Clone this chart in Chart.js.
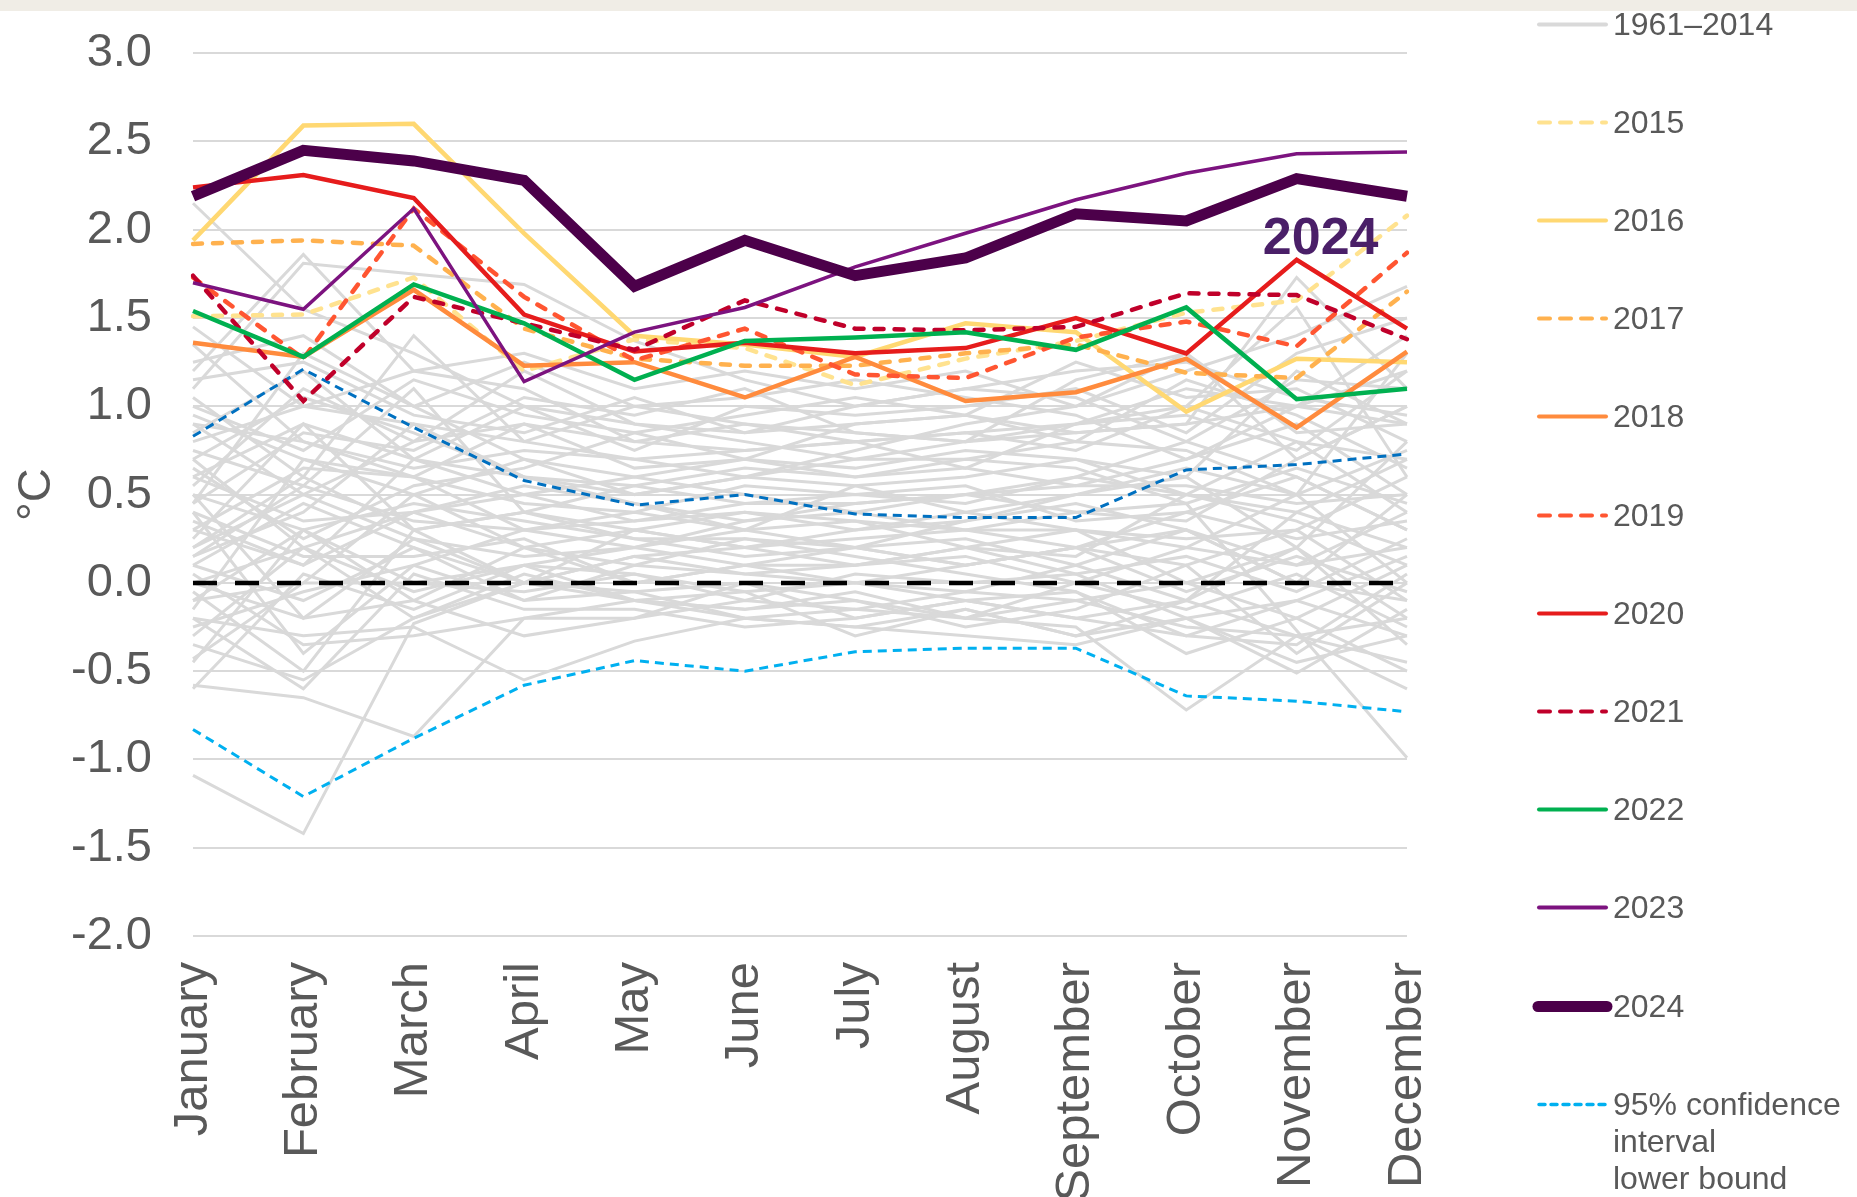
<!DOCTYPE html>
<html>
<head>
<meta charset="utf-8">
<script src="https://cdn.jsdelivr.net/npm/chart.js@4.4.1/dist/chart.umd.min.js"></script>
<style>
  html, body { margin: 0; padding: 0; background: #fff; }
  body { width: 1857px; height: 1197px; position: relative; overflow: hidden; font-family: "Liberation Sans", Arial, sans-serif; }
  #topband { position: absolute; left: 0; top: 0; width: 1857px; height: 11px; background: #f0ede6; z-index: 2; }
  /* canvas starts 16px above the page: chart.js adds the tick padding above the top label */
  #chart { position: absolute; left: 0; top: -16px; }
  #legend { position: absolute; left: 1530px; top: 0; width: 327px; height: 1197px; }
  .item { position: absolute; left: 0; }
  .item svg { position: absolute; left: 0; top: 0; }
  .item span { position: absolute; left: 83px; top: 0; font-size: 32px; line-height: 37px; color: #595959; white-space: nowrap; }
</style>
</head>
<body>
<div id="topband"></div>
<canvas id="chart" width="1857" height="1215"></canvas>
<div id="legend"></div>
<script>
const months = ["January", "February", "March", "April", "May", "June",
  "July", "August", "September", "October", "November", "December"];
const yTicks = [-2.0, -1.5, -1.0, -0.5, 0.0, 0.5, 1.0, 1.5, 2.0, 2.5, 3.0];

// 1961-2014, one row per year (grey background lines)
const grey1961to2014 = [
  [-0.35, -0.55, -0.20, 0.05, -0.10, -0.20, -0.25, -0.15, -0.30, -0.20, -0.45, -0.30],
  [0.10, 0.45, 0.20, -0.10, -0.05, 0.00, -0.20, -0.10, -0.05, -0.30, -0.10, 0.15],
  [-1.09, -1.42, -0.23, 0.00, -0.10, -0.15, -0.05, -0.20, -0.10, -0.25, -0.30, -0.60],
  [-0.58, -0.65, -0.87, -0.20, -0.10, -0.05, 0.00, -0.10, -0.20, -0.10, -0.30, -0.20],
  [-0.20, -0.30, -0.25, -0.55, -0.33, -0.20, -0.25, -0.30, -0.35, -0.20, -0.10, -0.30],
  [0.10, -0.10, 0.20, 0.00, -0.05, -0.20, -0.15, -0.20, -0.25, -0.72, -0.30, -0.45],
  [0.30, 0.10, 0.40, 0.20, 0.30, 0.20, 0.25, 0.30, 0.40, 0.45, -0.27, -0.99],
  [-0.30, 0.20, -0.05, 0.10, 0.05, -0.10, 0.05, 0.00, 0.05, -0.20, -0.51, -0.15],
  [0.60, 0.90, 0.70, 0.60, 0.50, 0.60, 0.70, 0.80, 0.85, 0.90, 1.73, 1.10],
  [0.80, 1.00, 0.90, 0.80, 0.70, 0.60, 0.75, 0.90, 1.00, 1.20, 1.40, 1.68],
  [0.90, 0.50, 0.80, 0.90, 0.80, 0.90, 0.85, 0.80, 0.90, 1.00, 1.56, 0.60],
  [2.15, 1.55, 1.30, 1.00, 0.90, 0.85, 0.90, 0.95, 0.85, 0.90, 1.00, 1.20],
  [1.20, 1.86, 1.20, 1.10, 0.80, 0.75, 0.80, 0.85, 0.90, 1.10, 1.00, 0.90],
  [1.10, 1.81, 1.75, 1.69, 1.37, 1.15, 1.00, 1.10, 1.20, 1.25, 1.05, 0.95],
  [-0.45, 0.30, -0.10, -0.30, -0.20, -0.10, -0.15, -0.05, -0.10, 0.00, -0.20, 0.10],
  [0.40, -0.40, 0.10, 0.30, 0.20, 0.30, 0.20, 0.10, 0.20, 0.10, 0.30, -0.10],
  [-0.10, 0.00, 0.50, 0.20, 0.10, 0.05, 0.10, 0.15, 0.00, 0.20, 0.10, 0.40],
  [0.20, 0.60, 0.30, 0.40, 0.30, 0.20, 0.10, 0.20, 0.30, 0.00, 0.20, -0.20],
  [0.00, -0.20, -0.10, 0.20, 0.00, 0.10, 0.00, -0.05, 0.10, 0.30, 0.00, 0.50],
  [0.50, 0.30, 0.00, 0.10, 0.20, 0.10, 0.20, 0.25, 0.10, -0.10, 0.40, 0.20],
  [-0.15, 0.70, 0.60, 0.30, 0.40, 0.30, 0.35, 0.30, 0.20, 0.40, 0.60, 0.30],
  [0.70, 0.20, 0.40, 0.50, 0.35, 0.40, 0.30, 0.35, 0.50, 0.60, 0.20, 0.80],
  [0.25, 0.90, 0.30, 0.00, 0.15, 0.20, 0.30, 0.40, 0.30, 0.20, 0.50, 0.00],
  [-0.05, -0.50, 0.30, 0.40, 0.25, 0.15, 0.20, 0.10, 0.20, 0.30, 0.10, 0.20],
  [0.35, 0.10, 0.70, 0.50, 0.60, 0.50, 0.40, 0.50, 0.60, 0.50, 0.80, 0.40],
  [0.95, 0.70, 0.50, 0.70, 0.50, 0.60, 0.55, 0.60, 0.70, 0.50, 0.40, 0.70],
  [0.45, 1.30, 1.00, 0.70, 0.60, 0.70, 0.60, 0.65, 0.55, 0.70, 0.90, 0.50],
  [0.15, 0.40, 0.90, 0.60, 0.45, 0.35, 0.45, 0.50, 0.40, 0.35, 0.70, 1.00],
  [0.75, 0.55, 1.10, 0.40, 0.55, 0.45, 0.50, 0.45, 0.60, 0.80, 0.60, 0.30],
  [1.35, 0.80, 0.60, 0.90, 0.65, 0.70, 0.65, 0.75, 0.70, 0.60, 1.20, 0.90],
  [0.55, 1.10, 0.80, 1.20, 0.90, 0.80, 0.70, 0.70, 0.80, 0.75, 0.50, 1.30],
  [1.05, 0.60, 1.40, 0.80, 1.00, 0.90, 0.80, 0.85, 0.75, 1.00, 0.80, 0.70],
  [0.85, 1.20, 0.70, 1.00, 0.75, 1.00, 0.95, 1.00, 1.10, 0.85, 1.30, 1.50],
  [1.45, 1.00, 1.20, 1.30, 1.10, 1.20, 1.10, 1.20, 1.00, 1.30, 0.70, 1.00],
  [0.65, 0.25, 0.55, 0.65, 0.85, 0.95, 1.05, 0.95, 1.25, 1.05, 1.10, 0.80],
  [1.25, 1.40, 1.00, 1.25, 1.00, 1.05, 1.15, 1.05, 0.95, 0.70, 1.00, 1.40],
  [-0.25, -0.05, 0.10, -0.10, 0.10, 0.25, 0.15, 0.05, -0.05, -0.40, -0.20, -0.50],
  [0.05, -0.35, -0.30, -0.20, -0.20, 0.00, -0.10, -0.25, -0.15, 0.10, -0.40, 0.00],
  [-0.43, 0.00, 0.00, -0.05, 0.05, -0.05, -0.30, -0.15, -0.30, -0.10, 0.20, -0.35],
  [0.40, 0.15, 0.15, 0.25, 0.00, 0.10, 0.10, 0.20, 0.05, 0.15, -0.05, 0.25],
  [0.20, 0.50, 0.25, 0.15, 0.20, 0.35, 0.40, 0.30, 0.30, 0.25, 0.30, 0.60],
  [-0.10, 0.30, 0.45, 0.35, 0.25, 0.25, 0.20, 0.35, 0.45, 0.30, 0.00, -0.10],
  [0.50, -0.20, 0.25, 0.00, 0.30, 0.40, 0.35, 0.20, 0.15, 0.50, 0.35, 0.10],
  [-0.60, 0.05, -0.15, 0.10, -0.10, -0.15, -0.10, -0.20, 0.00, -0.15, 0.05, -0.25],
  [0.30, 0.65, 0.60, 0.45, 0.40, 0.55, 0.50, 0.55, 0.35, 0.40, 0.25, 0.35],
  [0.60, 0.35, 0.40, 0.55, 0.45, 0.30, 0.55, 0.40, 0.50, 0.65, 0.50, 0.75],
  [0.70, 1.05, 0.85, 0.60, 0.55, 0.65, 0.60, 0.70, 0.65, 0.45, 0.65, 0.45],
  [0.90, 0.80, 0.65, 0.75, 0.70, 0.75, 0.80, 0.65, 0.90, 0.95, 0.75, 1.20],
  [1.00, 0.75, 1.15, 0.95, 0.85, 0.70, 0.90, 0.95, 0.80, 1.15, 0.95, 0.65],
  [0.00, 0.20, -0.20, 0.00, 0.15, 0.05, 0.00, 0.10, 0.20, -0.05, 0.15, -0.05],
  [-0.20, -0.60, 0.05, -0.15, -0.15, -0.25, -0.20, -0.10, -0.20, -0.30, -0.35, 0.05],
  [0.15, 0.55, 0.35, 0.30, 0.35, 0.45, 0.45, 0.50, 0.55, 0.55, 0.45, 0.50],
  [1.15, 1.25, 0.95, 0.85, 1.05, 0.85, 1.00, 1.10, 1.05, 0.80, 1.15, 1.10],
  [0.45, 0.85, 0.75, 1.05, 0.95, 1.10, 0.85, 0.80, 1.15, 1.30, 0.85, 0.90]
];

const y2015 = [1.51, 1.52, 1.73, 1.20, 1.38, 1.33, 1.12, 1.27, 1.37, 1.53, 1.60, 2.08];
const y2016 = [1.94, 2.59, 2.60, 1.98, 1.40, 1.35, 1.28, 1.47, 1.42, 0.97, 1.27, 1.25];
const y2017 = [1.92, 1.94, 1.91, 1.44, 1.27, 1.23, 1.23, 1.30, 1.35, 1.19, 1.16, 1.65];
const y2018 = [1.36, 1.28, 1.66, 1.23, 1.25, 1.05, 1.28, 1.03, 1.08, 1.27, 0.88, 1.31];
const y2019 = [1.73, 1.27, 2.12, 1.62, 1.26, 1.44, 1.18, 1.16, 1.39, 1.48, 1.34, 1.87];
const y2020 = [2.24, 2.31, 2.18, 1.52, 1.31, 1.36, 1.30, 1.33, 1.50, 1.30, 1.83, 1.44];
const y2021 = [1.74, 1.03, 1.62, 1.47, 1.32, 1.60, 1.44, 1.43, 1.45, 1.64, 1.63, 1.38];
const y2022 = [1.54, 1.28, 1.69, 1.47, 1.15, 1.37, 1.39, 1.42, 1.32, 1.56, 1.04, 1.10];
const y2023 = [1.70, 1.55, 2.12, 1.14, 1.42, 1.56, 1.79, 1.98, 2.17, 2.32, 2.43, 2.44];
const y2024 = [2.19, 2.45, 2.39, 2.28, 1.68, 1.94, 1.74, 1.84, 2.09, 2.05, 2.29, 2.19];

const ciUpper = [0.83, 1.21, 0.88, 0.58, 0.44, 0.50, 0.39, 0.37, 0.37, 0.64, 0.67, 0.73];
const ciLower = [-0.83, -1.21, -0.88, -0.58, -0.44, -0.50, -0.39, -0.37, -0.37, -0.64, -0.67, -0.73];
const zeroLine = [0, 0, 0, 0, 0, 0, 0, 0, 0, 0, 0, 0];

const FONT = '"Liberation Sans", Arial, sans-serif';
const TEXT = "#595959";
const GREY = "#d9d9d9";

// year series: label, data, colour, dashed?, width
const yearSeries = [
  ["2015", y2015, "#ffe28f", true, 4.5],
  ["2016", y2016, "#ffd872", false, 4.5],
  ["2017", y2017, "#ffb14e", true, 4.5],
  ["2018", y2018, "#ff8b3d", false, 4.5],
  ["2019", y2019, "#ff5531", true, 4.5],
  ["2020", y2020, "#e61c1c", false, 4.5],
  ["2021", y2021, "#c0002a", true, 4.5],
  ["2022", y2022, "#00b050", false, 4.5],
  ["2023", y2023, "#7c137f", false, 3.5],
  ["2024", y2024, "#4c004a", false, 11]
];

const datasets = [];

grey1961to2014.forEach((row, i) => {
  datasets.push({
    label: "grey" + i,
    data: row,
    borderColor: GREY,
    borderWidth: 3,
    order: 100
  });
});

datasets.push({
  label: "upper",
  data: ciUpper,
  borderColor: "#0070c0",
  borderWidth: 3,
  borderDash: [9, 6],
  order: 60
});
datasets.push({
  label: "lower",
  data: ciLower,
  borderColor: "#00b0f0",
  borderWidth: 3,
  borderDash: [9, 6],
  order: 60
});
datasets.push({
  label: "zero",
  data: zeroLine,
  borderColor: "#000000",
  borderWidth: 4.5,
  borderDash: [24, 18],
  order: 50
});

yearSeries.forEach((s, i) => {
  datasets.push({
    label: s[0],
    data: s[1],
    borderColor: s[2],
    borderWidth: s[4],
    borderDash: s[3] ? [9, 11] : [],
    borderCapStyle: s[3] ? "round" : "butt",
    order: 20 - i
  });
});

const label2024 = {
  id: "label2024",
  afterDatasetsDraw(chart) {
    const { ctx, scales } = chart;
    ctx.save();
    ctx.font = "bold 52px " + FONT;
    ctx.fillStyle = "#4a1f68";
    ctx.textAlign = "center";
    ctx.textBaseline = "alphabetic";
    ctx.fillText("2024", scales.x.getPixelForValue(10) + 24, scales.y.getPixelForValue(1.86));
    ctx.restore();
  }
};

new Chart(document.getElementById("chart"), {
  type: "line",
  data: { labels: months, datasets: datasets },
  options: {
    responsive: false,
    animation: false,
    elements: { point: { radius: 0 }, line: { tension: 0 } },
    layout: { padding: { top: 20, right: 450, left: 0, bottom: 0 } },
    plugins: {
      legend: { display: false },
      tooltip: { enabled: false }
    },
    scales: {
      x: {
        offset: false,
        grid: { display: false, drawTicks: false },
        border: { display: false },
        ticks: {
          autoSkip: false,
          minRotation: 90,
          maxRotation: 90,
          padding: 26,
          color: TEXT,
          font: { family: FONT, size: 49 }
        },
        afterFit: (s) => { s.height = 263; }
      },
      y: {
        min: yTicks[0],
        max: yTicks[yTicks.length - 1],
        afterBuildTicks: (s) => { s.ticks = yTicks.map(v => ({ value: v })); },
        grid: { color: GREY, lineWidth: 2, drawTicks: false },
        border: { display: false },
        ticks: {
          padding: 41,
          color: TEXT,
          font: { family: FONT, size: 47 },
          callback: (v) => v.toFixed(1)
        },
        title: {
          display: true,
          text: "°C",
          color: TEXT,
          font: { family: FONT, size: 47 },
          padding: { top: 9, bottom: 0 }
        },
        afterFit: (s) => { s.width = 193; }
      }
    }
  },
  plugins: [label2024]
});

// legend on the right, built from the same series
const legendRows = [["1961\u20132014", GREY, false, 4]]
  .concat(yearSeries.map(s => [s[0], s[2], s[3], s[0] === "2024" ? 11 : 4]))
  .concat([["95% confidence<br>interval<br>lower bound", "#00b0f0", true, 3.5]]);

const legend = document.getElementById("legend");
legendRows.forEach((r, i) => {
  const cy = 24 + i * 98.2;
  const item = document.createElement("div");
  item.className = "item";
  item.style.top = (cy - 18.5) + "px";
  const dash = r[2] ? (r[3] < 4 ? 'stroke-dasharray="6 6"' : 'stroke-dasharray="11 10"') : "";
  const x1 = r[3] > 8 ? 8 : 9;
  const x2 = r[3] > 8 ? 77 : 76;
  item.innerHTML =
    '<svg width="84" height="37"><line x1="' + x1 + '" y1="18.5" x2="' + x2 + '" y2="18.5" stroke="' + r[1] +
    '" stroke-width="' + r[3] + '" stroke-linecap="round" ' + dash + '/></svg>' +
    "<span>" + r[0] + "</span>";
  legend.appendChild(item);
});
</script>
</body>
</html>
